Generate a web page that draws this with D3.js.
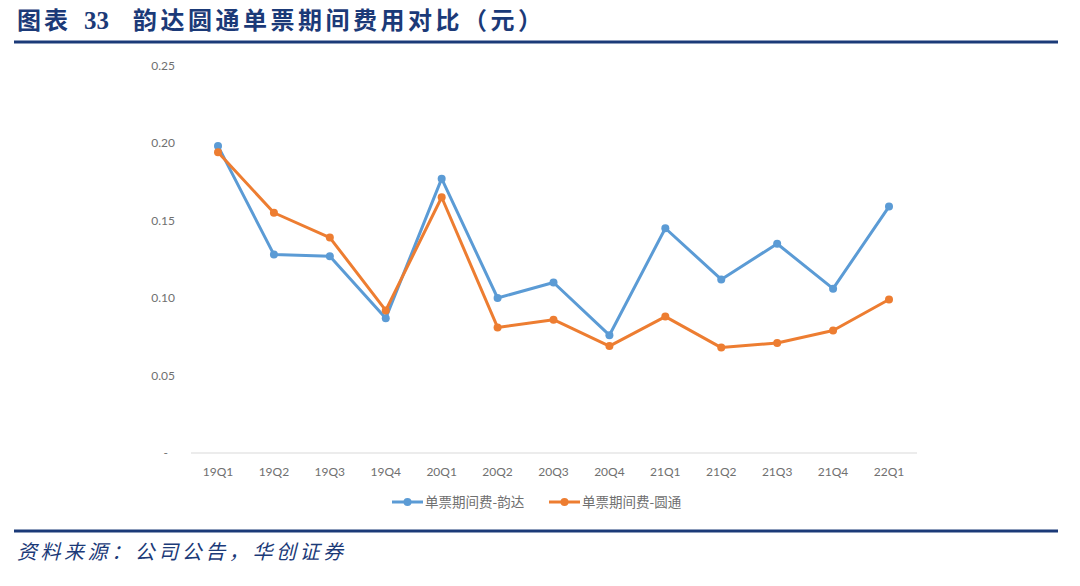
<!DOCTYPE html>
<html>
<head>
<meta charset="utf-8">
<script src="https://cdn.jsdelivr.net/npm/d3@7"></script>
<style>
  body { margin: 0; background: #fff; }
  svg { display: block; }
</style>
</head>
<body>
<div id="chart"></div>
<script>
var quarters = ["19Q1", "19Q2", "19Q3", "19Q4", "20Q1", "20Q2", "20Q3", "20Q4",
  "21Q1", "21Q2", "21Q3", "21Q4", "22Q1"];
var yunda = [0.198, 0.128, 0.127, 0.087, 0.177, 0.100, 0.110, 0.076, 0.145, 0.112, 0.135, 0.106, 0.159];
var yuantong = [0.194, 0.155, 0.139, 0.092, 0.165, 0.081, 0.086, 0.069, 0.088, 0.068, 0.071, 0.079, 0.099];
var yTicks = [0, 0.05, 0.10, 0.15, 0.20, 0.25];
var seriesNames = ["单票期间费-韵达", "单票期间费-圆通"];
var seriesColors = ["#5b9bd5", "#ed7d31"];

var width = 1080, height = 586;
var navy = "#1b3a78";
var labelFont = "Lato, 'Noto Sans CJK SC', sans-serif";

var svg = d3.select("#chart").append("svg")
  .attr("width", width)
  .attr("height", height);

// title block
var title = svg.append("g")
  .attr("fill", navy)
  .attr("font-family", "'Noto Sans CJK SC', sans-serif")
  .attr("font-weight", "bold")
  .attr("font-size", 24);
title.append("text").attr("x", 17).attr("y", 29)
  .attr("textLength", 51).attr("lengthAdjust", "spacing").text("图表");
title.append("text").attr("x", 84).attr("y", 29)
  .attr("font-family", "'Liberation Serif', serif").attr("font-size", 25).text("33");
title.append("text").attr("x", 133).attr("y", 29)
  .attr("textLength", 409).attr("lengthAdjust", "spacing")
  .text("韵达圆通单票期间费用对比（元）");

svg.append("line")
  .attr("x1", 14).attr("x2", 1058).attr("y1", 42).attr("y2", 42)
  .attr("stroke", navy).attr("stroke-width", 3);

svg.append("line")
  .attr("x1", 14).attr("x2", 1058).attr("y1", 531).attr("y2", 531)
  .attr("stroke", navy).attr("stroke-width", 3);

svg.append("text")
  .attr("x", 17).attr("y", 559)
  .attr("fill", navy)
  .attr("font-family", "'Noto Sans CJK SC', sans-serif")
  .attr("font-style", "italic")
  .attr("font-size", 20)
  .attr("textLength", 326).attr("lengthAdjust", "spacing")
  .text("资料来源：公司公告，华创证券");

// scales
var x = d3.scalePoint()
  .domain(quarters)
  .range([218, 889]);

var y = d3.scaleLinear()
  .domain([0, 0.25])
  .range([453, 65.5]);

// y labels (no axis line)
svg.append("g")
  .selectAll("text")
  .data(yTicks)
  .enter()
  .append("text")
  .attr("x", function (d) { return d === 0 ? 168 : 175; })
  .attr("y", function (d) { return y(d) + 4; })
  .attr("text-anchor", "end")
  .attr("font-family", labelFont)
  .attr("font-size", 12)
  .attr("fill", "#707070")
  .text(function (d) { return d === 0 ? "-" : d3.format(".2f")(d); });

// x axis line + labels
svg.append("line")
  .attr("x1", 191).attr("x2", 917)
  .attr("y1", y(0)).attr("y2", y(0))
  .attr("stroke", "#d9d9d9").attr("stroke-width", 1);

svg.append("g")
  .selectAll("text")
  .data(quarters)
  .enter()
  .append("text")
  .attr("x", function (d) { return x(d); })
  .attr("y", 476)
  .attr("text-anchor", "middle")
  .attr("font-family", labelFont)
  .attr("font-size", 12)
  .attr("fill", "#707070")
  .text(function (d) { return d; });

// series
var series = [yunda, yuantong];
var line = d3.line()
  .x(function (d, i) { return x(quarters[i]); })
  .y(function (d) { return y(d); });

series.forEach(function (values, s) {
  var g = svg.append("g");
  g.append("path")
    .attr("d", line(values))
    .attr("fill", "none")
    .attr("stroke", seriesColors[s])
    .attr("stroke-width", 3)
    .attr("stroke-linejoin", "round");
  g.selectAll("circle")
    .data(values)
    .enter()
    .append("circle")
    .attr("cx", function (d, i) { return x(quarters[i]); })
    .attr("cy", function (d) { return y(d); })
    .attr("r", 4)
    .attr("fill", seriesColors[s]);
});

// legend
var legendX = [392, 549];
seriesNames.forEach(function (name, s) {
  var lg = svg.append("g").attr("transform", "translate(" + legendX[s] + ",502)");
  lg.append("line")
    .attr("x1", 0).attr("x2", 31)
    .attr("stroke", seriesColors[s]).attr("stroke-width", 3);
  lg.append("circle")
    .attr("cx", 15.5).attr("r", 4)
    .attr("fill", seriesColors[s]);
  lg.append("text")
    .attr("x", 33).attr("y", 4.5)
    .attr("font-family", "'Noto Sans CJK SC', sans-serif")
    .attr("font-size", 13.5)
    .attr("fill", "#707070")
    .text(name);
});
</script>
</body>
</html>
